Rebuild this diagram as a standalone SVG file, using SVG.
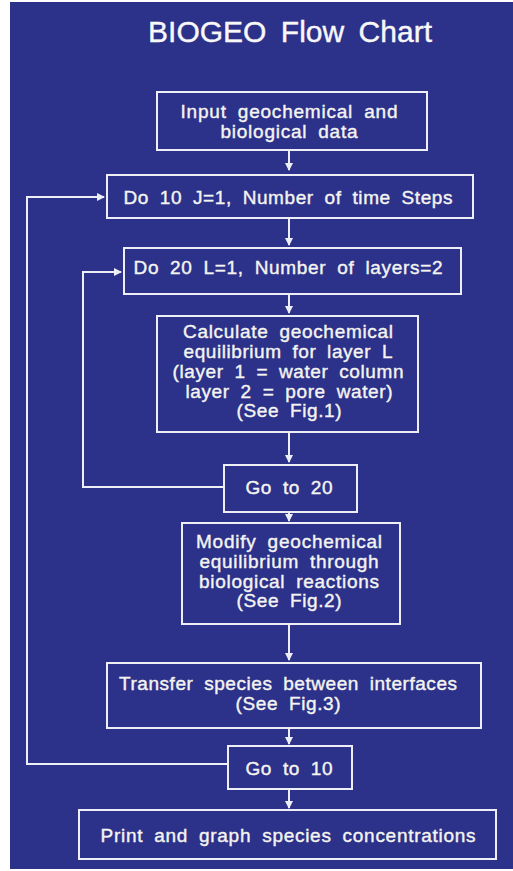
<svg xmlns="http://www.w3.org/2000/svg" width="513" height="871" viewBox="0 0 513 871">
<defs>
<style>
.bg{fill:#2c318a}
.box{fill:none;stroke:#eeeef6;stroke-width:2}
.ln{fill:none;stroke:#eeeef6;stroke-width:2}
.t{font-family:"Liberation Sans",Arial,sans-serif;font-size:19px;fill:#f4f4f0;stroke:#f4f4f0;stroke-width:0.4;text-anchor:middle;word-spacing:5px}
.title{font-family:"Liberation Sans",Arial,sans-serif;font-size:30px;fill:#f8f8f8;stroke:#f8f8f8;stroke-width:0.4;text-anchor:middle;word-spacing:6px}
</style>
<marker id="ah" viewBox="0 0 8 8" refX="7" refY="4" markerWidth="4" markerHeight="4" orient="auto" markerUnits="strokeWidth">
<path d="M0,0 L8,4 L0,8 z" fill="#eeeef6"/>
</marker>
</defs>
<rect x="0" y="0" width="513" height="871" fill="#ffffff"/>
<rect class="bg" x="10" y="2" width="503" height="867"/>
<text class="title" x="290" y="42" textLength="284" lengthAdjust="spacing">BIOGEO Flow Chart</text>

<g id="connectors">
<path class="ln" d="M289,150 V170" marker-end="url(#ah)"/>
<path class="ln" d="M289,218 V245" marker-end="url(#ah)"/>
<path class="ln" d="M289,294 V313" marker-end="url(#ah)"/>
<path class="ln" d="M289,432 V462" marker-end="url(#ah)"/>
<path class="ln" d="M289,512 V521" marker-end="url(#ah)"/>
<path class="ln" d="M289,624 V660" marker-end="url(#ah)"/>
<path class="ln" d="M289,728 V744" marker-end="url(#ah)"/>
<path class="ln" d="M289,789 V808" marker-end="url(#ah)"/>
<path class="ln" d="M224,487 H83 V272 H121" marker-end="url(#ah)"/>
<path class="ln" d="M228,764 H27 V197 H104" marker-end="url(#ah)"/>
</g>

<g id="n1">
<rect class="box" x="157" y="92" width="270" height="58"/>
<text class="t" x="289" y="118" textLength="217" lengthAdjust="spacing">Input geochemical and</text>
<text class="t" x="289" y="138" textLength="137" lengthAdjust="spacing">biological data</text>
</g>
<g id="n2">
<rect class="box" x="107" y="175" width="366" height="43"/>
<text class="t" x="288" y="204" textLength="329" lengthAdjust="spacing">Do 10 J=1, Number of time Steps</text>
</g>
<g id="n3">
<rect class="box" x="124" y="248" width="337" height="46"/>
<text class="t" x="288" y="274" textLength="309" lengthAdjust="spacing">Do 20 L=1, Number of layers=2</text>
</g>
<g id="n4">
<rect class="box" x="157" y="316" width="261" height="116"/>
<text class="t" x="288" y="338" textLength="210" lengthAdjust="spacing">Calculate geochemical</text>
<text class="t" x="288" y="358" textLength="209" lengthAdjust="spacing">equilibrium for layer L</text>
<text class="t" x="288" y="378" textLength="231" lengthAdjust="spacing">(layer 1 = water column</text>
<text class="t" x="289" y="398" textLength="207" lengthAdjust="spacing">layer 2 = pore water)</text>
<text class="t" x="289" y="417" textLength="105" lengthAdjust="spacing">(See Fig.1)</text>
</g>
<g id="n5">
<rect class="box" x="224" y="465" width="133" height="47"/>
<text class="t" x="289" y="494" textLength="87" lengthAdjust="spacing">Go to 20</text>
</g>
<g id="n6">
<rect class="box" x="182" y="523" width="218" height="101"/>
<text class="t" x="289" y="548" textLength="186" lengthAdjust="spacing">Modify geochemical</text>
<text class="t" x="289" y="568" textLength="179" lengthAdjust="spacing">equilibrium through</text>
<text class="t" x="289" y="588" textLength="180" lengthAdjust="spacing">biological reactions</text>
<text class="t" x="289" y="607" textLength="105" lengthAdjust="spacing">(See Fig.2)</text>
</g>
<g id="n7">
<rect class="box" x="107" y="663" width="374" height="65"/>
<text class="t" x="288" y="690" textLength="338" lengthAdjust="spacing">Transfer species between interfaces</text>
<text class="t" x="288" y="710" textLength="105" lengthAdjust="spacing">(See Fig.3)</text>
</g>
<g id="n8">
<rect class="box" x="228" y="746" width="124" height="43"/>
<text class="t" x="289" y="775" textLength="87" lengthAdjust="spacing">Go to 10</text>
</g>
<g id="n9">
<rect class="box" x="79" y="810" width="417" height="49"/>
<text class="t" x="288" y="842" textLength="375" lengthAdjust="spacing">Print and graph species concentrations</text>
</g>
</svg>
